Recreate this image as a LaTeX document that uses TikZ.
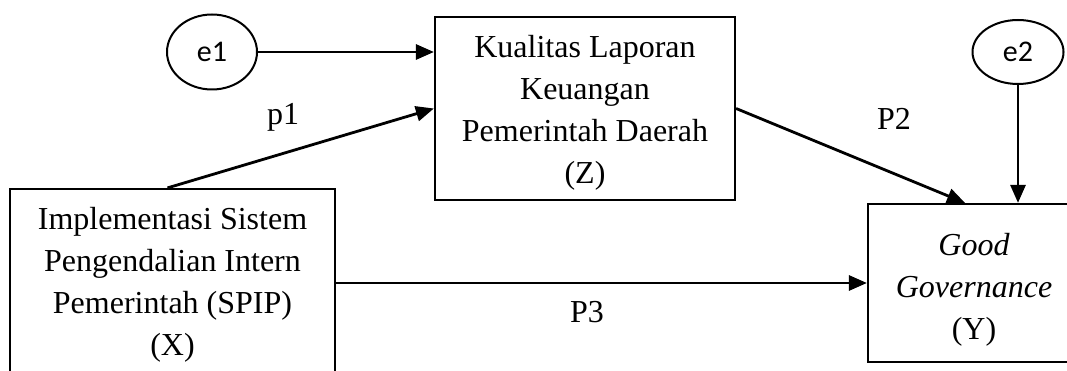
\documentclass[tikz,border=0pt]{standalone}
\usepackage{fontspec}
\setmainfont{Liberation Serif}
\newfontfamily\calib{Carlito}
\usetikzlibrary{arrows.meta,shapes.geometric}
\begin{document}
\begin{tikzpicture}[x=1pt,y=-1pt,
  box/.style={draw,line width=2.2pt,align=center,inner sep=0pt,font=\fontsize{32}{42}\selectfont},
  err/.style={draw,ellipse,line width=2pt,inner sep=0pt,font=\calib\fontsize{30}{34}\selectfont},
  arr/.style={line width=2.8pt,-{Triangle[length=18pt,width=15pt]}},
  lab/.style={anchor=base,inner sep=0pt,font=\fontsize{32}{38}\selectfont}]
\useasboundingbox (0,0) rectangle (1067,371);
\clip (0,0) rectangle (1067,371);
\node[box,minimum width=325pt,minimum height=191pt] (X) at (172.5,284.5) {Implementasi Sistem\\Pengendalian Intern\\Pemerintah (SPIP)\\(X)};
\node[box,minimum width=300pt,minimum height=183pt] (Z) at (585,108.5) {\rule{0pt}{31pt}Kualitas Laporan\\Keuangan\\Pemerintah Daerah\\(Z)};
\node[box,minimum width=212pt,minimum height=158pt] (Y) at (974,283) {\rule{0pt}{36pt}\textit{Good}\\\textit{Governance}\\(Y)};
\node[err,minimum width=90pt,minimum height=75pt] (e1) at (212,52) {e1};
\node[err,minimum width=91pt,minimum height=64pt] (e2) at (1018,52) {e2};
\draw[arr] (e1) -- (e1 -| Z.west);
\draw[arr] ([xshift=-5pt]X.north) -- (Z.west);
\draw[arr] (Z.east) -- ([xshift=-9pt]Y.north);
\draw[arr] (e2.south) -- (e2.south |- Y.north);
\draw[arr] (Y.west -| X.east) -- (Y.west);
\node[lab] (p1) at (283,125) {p1};
\node[lab] (p2) at (894,130) {P2};
\node[lab] (p3) at (587,322) {P3};
\end{tikzpicture}
\end{document}
